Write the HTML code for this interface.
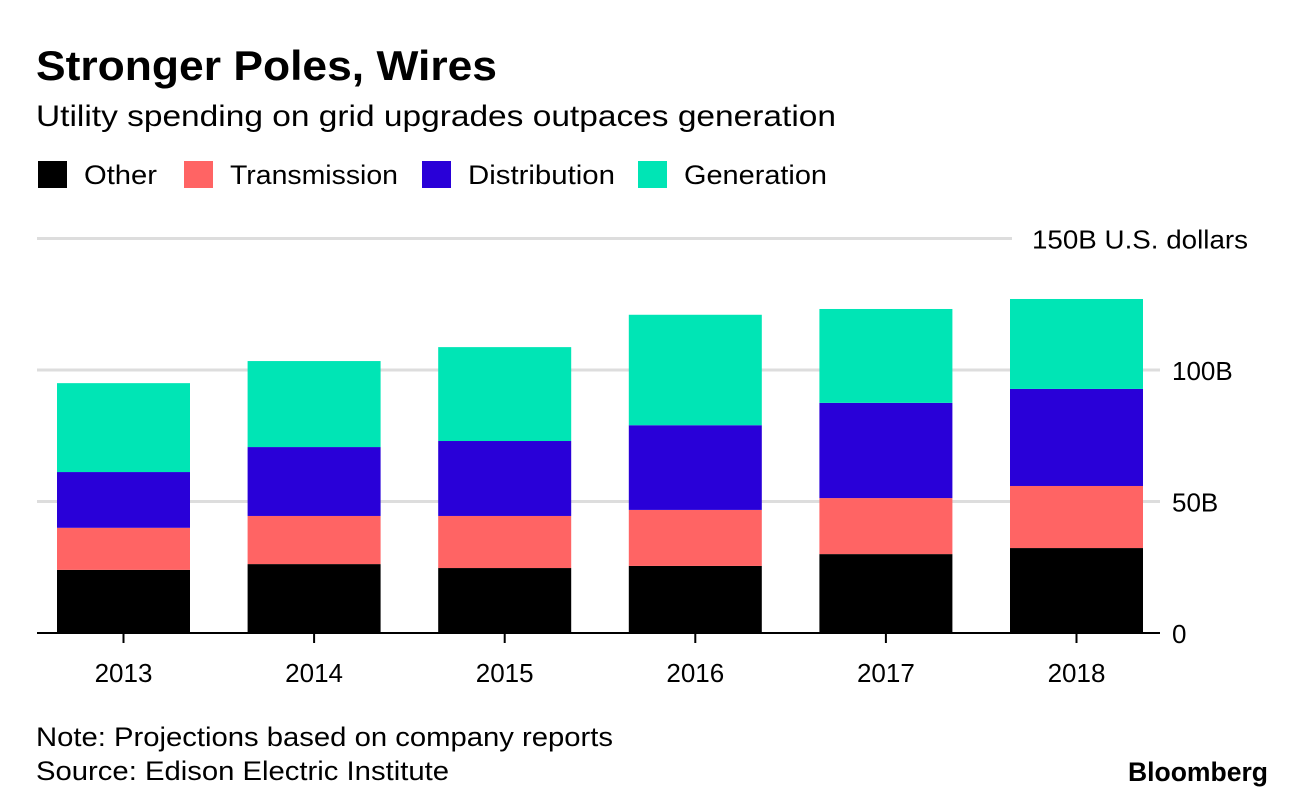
<!DOCTYPE html>
<html><head><meta charset="utf-8"><style>
body{margin:0;background:#fff;width:1296px;height:802px;overflow:hidden;font-family:"Liberation Sans",sans-serif;}
</style></head><body>
<svg width="1296" height="802" xmlns="http://www.w3.org/2000/svg" font-family="Liberation Sans, sans-serif">
<text x="36" y="80" font-size="42" font-weight="bold" fill="#000" textLength="461" lengthAdjust="spacingAndGlyphs">Stronger Poles, Wires</text>
<text x="36" y="126" font-size="30" fill="#000" textLength="800" lengthAdjust="spacingAndGlyphs">Utility spending on grid upgrades outpaces generation</text>
<g id="legend"></g>
<g id="grid"></g>
<g id="bars"></g>
<g id="axis"></g>
<text x="36" y="746" font-size="27" fill="#000" textLength="577" lengthAdjust="spacingAndGlyphs">Note: Projections based on company reports</text>
<text x="36" y="780" font-size="27" fill="#000" textLength="413" lengthAdjust="spacingAndGlyphs">Source: Edison Electric Institute</text>
<text x="1128" y="781" font-size="27" font-weight="bold" fill="#000" textLength="140" lengthAdjust="spacingAndGlyphs">Bloomberg</text>
</svg>
<script>
const categories=["2013","2014","2015","2016","2017","2018"];
const other=[24,26.2,24.7,25.5,30,32.3];
const transmission=[16,18.3,19.8,21.3,21.3,23.6];
const distribution=[21.2,26.2,28.5,32.2,36.2,36.9];
const generation=[33.8,32.7,35.7,42,35.7,34.2];
const seriesNames=["Other","Transmission","Distribution","Generation"];
const yTicks=[0,50,100,150];
const yTickLabels=["0","50B","100B","150B U.S. dollars"];
const colors=["#000000","#ff6464","#2900d8","#00e5b5"];
const NS="http://www.w3.org/2000/svg";
const y=v=>633-v*2.63;
const x=i=>57+i*190.6;
const bw=133;
function mk(tag,attrs,parent){const e=document.createElementNS(NS,tag);for(const k in attrs)e.setAttribute(k,attrs[k]);parent.appendChild(e);return e;}
const leg=document.getElementById('legend');
const legX=[38,184,422,638];
const legW=[73,168,147,143];
seriesNames.forEach((n,i)=>{
 const r=mk('rect',{x:legX[i],y:161,width:29,height:27,fill:colors[i]},leg);
 
 
 const t=mk('text',{x:legX[i]+46,y:184,'font-size':27,fill:'#000',textLength:legW[i],lengthAdjust:'spacingAndGlyphs'},leg);t.textContent=n;
 
 
});
const grid=document.getElementById('grid');
yTicks.forEach((v,i)=>{
 if(v>0){const l=mk('line',{x1:37,x2:v===150?1012:1160,y1:y(v),y2:y(v),stroke:'#dddddd','stroke-width':3},grid);
 
 }
 const attrs={x:v===150?1032:1172,y:y(v)+10,'font-size':26,fill:'#000'};
 if(v===150){attrs.textLength=216;attrs.lengthAdjust='spacingAndGlyphs';}
 const t=mk('text',attrs,grid);t.textContent=yTickLabels[i];
 
 
});
const bars=document.getElementById('bars');
const series=[other,transmission,distribution,generation];
categories.forEach((c,i)=>{
 let acc=0;
 series.forEach((s,j)=>{
  const r=mk('rect',{x:x(i),y:y(acc+s[i]),width:bw,height:y(acc)-y(acc+s[i]),fill:colors[j]},bars);
  
  
  acc+=s[i];
 });
});
const ax=document.getElementById('axis');
const base=mk('line',{x1:37,x2:1160,y1:633,y2:633,stroke:'#000','stroke-width':2},ax);


categories.forEach((c,i)=>{
 const cx=x(i)+bw/2;
 const tk=mk('line',{x1:cx,x2:cx,y1:633,y2:643,stroke:'#000','stroke-width':2},ax);
 
 
 const t=mk('text',{x:cx,y:682,'font-size':26,'text-anchor':'middle',fill:'#000'},ax);t.textContent=c;
 
 
});
</script>
</body></html>
